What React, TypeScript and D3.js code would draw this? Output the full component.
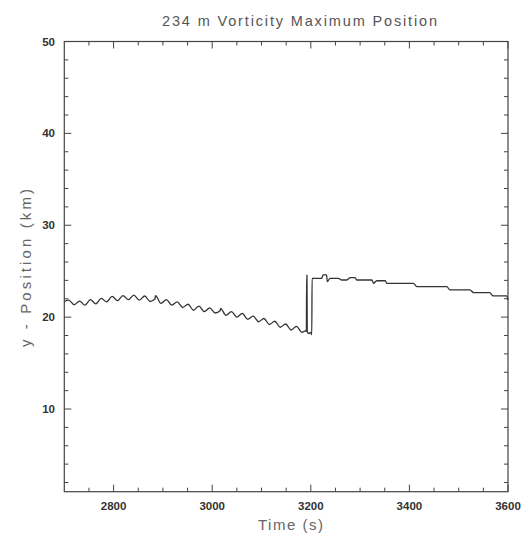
import React from "react";
import * as d3 from "d3";

const titleText = "234 m Vorticity Maximum Position";
const xLabel = "Time (s)";
const yLabel = "y - Position (km)";

const xMajorTicks = [2800, 3000, 3200, 3400, 3600];
const yMajorTicks = [10, 20, 30, 40, 50];

const timeS = [
  2700, 2709, 2720, 2731, 2742, 2753, 2764, 2775, 2786, 2797, 2808, 2819,
  2830, 2841, 2852, 2863, 2874, 2884, 2885, 2896, 2907, 2918, 2929, 2940,
  2951, 2962, 2973, 2984, 2995, 3006, 3016, 3017, 3028, 3039, 3050, 3061,
  3072, 3083, 3094, 3105, 3116, 3127, 3138, 3149, 3160, 3171, 3182, 3189,
  3191, 3191.6, 3192.2, 3192.8, 3196, 3199, 3202, 3202.6, 3222, 3225, 3232,
  3233.5, 3239, 3256, 3263, 3273, 3280, 3290, 3293, 3324, 3327, 3334, 3351,
  3354, 3408, 3415, 3476, 3482, 3523, 3530, 3563, 3570, 3597, 3600,
];

const yKm = [
  21.7, 21.85, 21.35, 21.75, 21.3, 21.9, 21.45, 22.05, 21.65, 22.25, 21.8, 22.35,
  21.9, 22.4, 21.85, 22.3, 21.7, 22.0, 22.35, 21.5, 21.9, 21.3, 21.65, 21.05,
  21.4, 20.75, 21.2, 20.6, 21.0, 20.45, 20.7, 20.95, 20.2, 20.6, 20.0, 20.4,
  19.75, 20.1, 19.5, 19.85, 19.2, 19.55, 18.9, 19.25, 18.6, 19.0, 18.35, 18.5,
  18.45, 24.6, 24.55, 18.4, 18.2, 18.35, 18.1, 24.22, 24.22, 24.6, 24.6,
  23.87, 24.22, 24.22, 24.04, 24.04, 24.3, 24.3, 24.04, 24.04, 23.68, 23.96, 23.96,
  23.68, 23.68, 23.32, 23.32, 22.96, 22.96, 22.67, 22.67, 22.31, 22.31, 21.87,
];

const W = 527;
const H = 539;
const left = 64.3;
const right = 508;
const top = 41.5;
const bottom = 491.7;

export default function App() {
  const x = d3.scaleLinear().domain([2700, 3600]).range([left, right]);
  const y = d3.scaleLinear().domain([1, 50]).range([bottom, top]);

  const xMinor = d3.range(2750, 3600, 50).filter((v) => v % 200 !== 0);
  const yMinor = d3.range(2, 50, 2).filter((v) => v % 10 !== 0);

  const pts: [number, number][] = timeS.map((t, i) => [t, yKm[i]]);
  const line = d3
    .line<[number, number]>()
    .x((d) => x(d[0]))
    .y((d) => y(d[1]))
    .curve(d3.curveMonotoneX);

  const axisColor = "#444";
  const majorLen = 7;
  const minorLen = 4;

  return (
    <svg
      width={W}
      height={H}
      style={{ position: "absolute", left: 0, top: 0, background: "#fff" }}
    >
      <rect x={0} y={0} width={W} height={H} fill="#fff" />
      <text
        x={299.5}
        y={26}
        textAnchor="middle"
        fontFamily="'Liberation Sans', Arial, sans-serif"
        fontSize={14.5}
        fill="#555"
        textLength={275}
        lengthAdjust="spacing"
      >
        {titleText}
      </text>

      {/* frame */}
      <rect
        x={left}
        y={top}
        width={right - left}
        height={bottom - top}
        fill="none"
        stroke={axisColor}
        strokeWidth={1.2}
      />

      {/* x ticks */}
      {xMajorTicks.map((v) => (
        <g key={"xM" + v}>
          <line x1={x(v)} x2={x(v)} y1={bottom} y2={bottom - majorLen} stroke={axisColor} strokeWidth={1} />
          <line x1={x(v)} x2={x(v)} y1={top} y2={top + majorLen} stroke={axisColor} strokeWidth={1} />
          <text
            x={x(v)}
            y={510}
            textAnchor="middle"
            fontFamily="'Liberation Sans', Arial, sans-serif"
            fontWeight="bold"
            fontSize={11.5}
            fill="#333"
          >
            {v}
          </text>
        </g>
      ))}
      {xMinor.map((v) => (
        <g key={"xm" + v}>
          <line x1={x(v)} x2={x(v)} y1={bottom} y2={bottom - minorLen} stroke={axisColor} strokeWidth={1} />
          <line x1={x(v)} x2={x(v)} y1={top} y2={top + minorLen} stroke={axisColor} strokeWidth={1} />
        </g>
      ))}

      {/* y ticks */}
      {yMajorTicks.map((v) => (
        <g key={"yM" + v}>
          <line x1={left} x2={left + majorLen} y1={y(v)} y2={y(v)} stroke={axisColor} strokeWidth={1} />
          <line x1={right} x2={right - majorLen} y1={y(v)} y2={y(v)} stroke={axisColor} strokeWidth={1} />
          <text
            x={55}
            y={y(v) + 4}
            textAnchor="end"
            fontFamily="'Liberation Sans', Arial, sans-serif"
            fontWeight="bold"
            fontSize={11.5}
            fill="#333"
          >
            {v}
          </text>
        </g>
      ))}
      {yMinor.map((v) => (
        <g key={"ym" + v}>
          <line x1={left} x2={left + minorLen} y1={y(v)} y2={y(v)} stroke={axisColor} strokeWidth={1} />
          <line x1={right} x2={right - minorLen} y1={y(v)} y2={y(v)} stroke={axisColor} strokeWidth={1} />
        </g>
      ))}

      {/* data */}
      <path d={line(pts) || ""} fill="none" stroke="#333" strokeWidth={1.3} />

      {/* axis labels */}
      <text
        x={290.5}
        y={530}
        textAnchor="middle"
        fontFamily="'Liberation Sans', Arial, sans-serif"
        fontSize={15}
        fill="#666"
        textLength={65}
        lengthAdjust="spacing"
      >
        {xLabel}
      </text>
      <text
        transform={`translate(31, 268) rotate(-90)`}
        textAnchor="middle"
        fontFamily="'Liberation Sans', Arial, sans-serif"
        fontSize={15}
        fill="#666"
        textLength={158}
        lengthAdjust="spacing"
      >
        {yLabel}
      </text>
    </svg>
  );
}
